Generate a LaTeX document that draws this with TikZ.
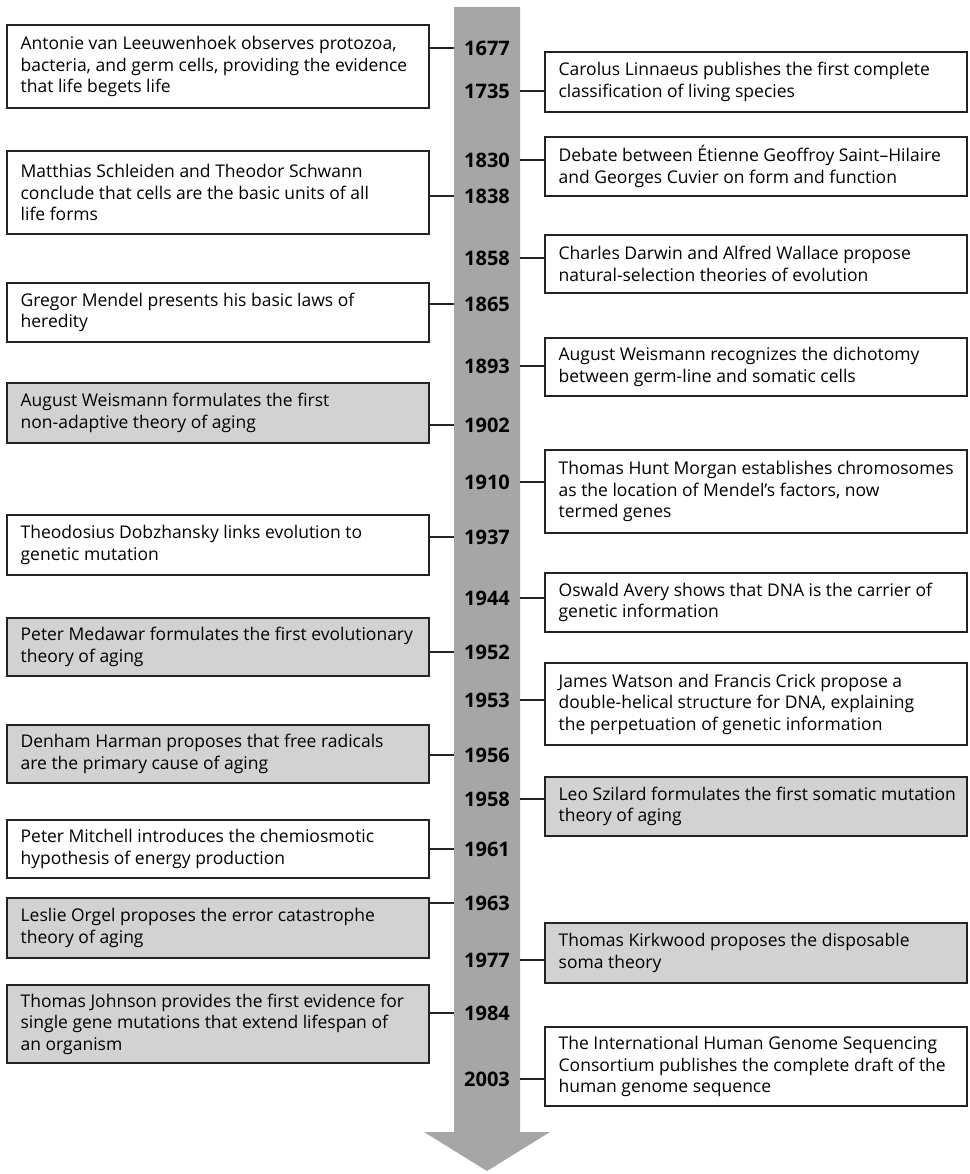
\documentclass[tikz,border=0pt]{standalone}
\usepackage{fontspec}
\setmainfont{Open Sans}

\definecolor{barfill}{RGB}{166,166,166}
\definecolor{agingfill}{RGB}{210,210,210}
\definecolor{edge}{RGB}{35,35,35}

\tikzset{
  event/.style={draw=edge, line width=1.1pt, fill=white, minimum width=422pt, inner sep=0pt},
  agingevent/.style={event, fill=agingfill},
  eventtext/.style={anchor=west, align=left, inner sep=0pt, font=\fontsize{17.5}{21.5}\selectfont},
  yearlabel/.style={inner sep=0pt, font=\fontsize{20}{24}\selectfont\bfseries},
  link/.style={draw=edge, line width=1.1pt},
}

% box name, style, centre x, top y, bottom y, text
\newcommand\eventbox[6]{%
  \node[#2, minimum height={#5-#4}] (#1) at (#3,{(#4+#5)/2}) {};
  \node[eventtext] (#1text) at ([xshift=14pt]#1.west) {#6};
}

\begin{document}
\begin{tikzpicture}[x=1pt, y=-1pt]
\useasboundingbox (0,0) rectangle (969,1174);

% time axis: shaft with arrow head
\fill[barfill] (454,7) -- (520,7) -- (520,1132) -- (550,1132) -- (487,1171)
  -- (424,1132) -- (454,1132) -- cycle;
\coordinate (barL) at (454,0);
\coordinate (barR) at (520,0);

% years on the axis
\foreach \yr/\yy in {1677/48, 1735/91, 1830/160, 1838/196, 1858/258, 1865/304,
  1893/366, 1902/425, 1910/482, 1937/537, 1944/598, 1952/652, 1953/700,
  1956/755, 1958/799, 1961/849, 1963/903, 1977/960, 1984/1013, 2003/1079}
  \node[yearlabel] (Y\yr) at (487,\yy) {\yr};

% events on the left
\eventbox{L1}{event}{218}{25}{108}{Antonie van Leeuwenhoek observes protozoa,\\bacteria, and germ cells, providing the evidence\\that life begets life}
\eventbox{L2}{event}{218}{151}{234}{Matthias Schleiden and Theodor Schwann\\conclude that cells are the basic units of all\\life forms}
\eventbox{L3}{event}{218}{283}{342}{Gregor Mendel presents his basic laws of\\heredity}
\eventbox{L4}{agingevent}{218}{383}{443}{August Weismann formulates the first\\non-adaptive theory of aging}
\eventbox{L5}{event}{218}{515}{575}{Theodosius Dobzhansky links evolution to\\genetic mutation}
\eventbox{L6}{agingevent}{218}{618}{676}{Peter Medawar formulates the first evolutionary\\theory of aging}
\eventbox{L7}{agingevent}{218}{725}{783}{Denham Harman proposes that free radicals\\are the primary cause of aging}
\eventbox{L8}{event}{218}{820}{878}{Peter Mitchell introduces the chemiosmotic\\hypothesis of energy production}
\eventbox{L9}{agingevent}{218}{898}{958}{Leslie Orgel proposes the error catastrophe\\theory of aging}
\eventbox{L10}{agingevent}{218}{985}{1063}{Thomas Johnson provides the first evidence for\\single gene mutations that extend lifespan of\\an organism}

% events on the right
\eventbox{R1}{event}{756}{52}{112}{Carolus Linnaeus publishes the first complete\\classification of living species}
\eventbox{R2}{event}{756}{137}{196}{Debate between Étienne Geoffroy Saint–Hilaire\\and Georges Cuvier on form and function}
\eventbox{R3}{event}{756}{235}{293}{Charles Darwin and Alfred Wallace propose\\natural-selection theories of evolution}
\eventbox{R4}{event}{756}{338}{396}{August Weismann recognizes the dichotomy\\between germ-line and somatic cells}
\eventbox{R5}{event}{756}{450}{533}{Thomas Hunt Morgan establishes chromosomes\\as the location of Mendel’s factors, now\\termed genes}
\eventbox{R6}{event}{756}{573}{632}{Oswald Avery shows that DNA is the carrier of\\genetic information}
\eventbox{R7}{event}{756}{663}{745}{James Watson and Francis Crick propose a\\double-helical structure for DNA, explaining\\the perpetuation of genetic information}
\eventbox{R8}{agingevent}{756}{777}{836}{Leo Szilard formulates the first somatic mutation\\theory of aging}
\eventbox{R9}{agingevent}{756}{923}{983}{Thomas Kirkwood proposes the disposable\\soma theory}
\eventbox{R10}{event}{756}{1027}{1106}{The International Human Genome Sequencing\\Consortium publishes the complete draft of the\\human genome sequence}

% connectors from each event to its year on the axis
\foreach \b/\yr in {L1/1677, L2/1838, L3/1865, L4/1902, L5/1937, L6/1952,
  L7/1956, L8/1961, L9/1963, L10/1984}
  \draw[link] (\b.east |- Y\yr) -- (barL |- Y\yr);
\foreach \b/\yr in {R1/1735, R2/1830, R3/1858, R4/1893, R5/1910, R6/1944,
  R7/1953, R8/1958, R9/1977, R10/2003}
  \draw[link] (\b.west |- Y\yr) -- (barR |- Y\yr);
\end{tikzpicture}
\end{document}
